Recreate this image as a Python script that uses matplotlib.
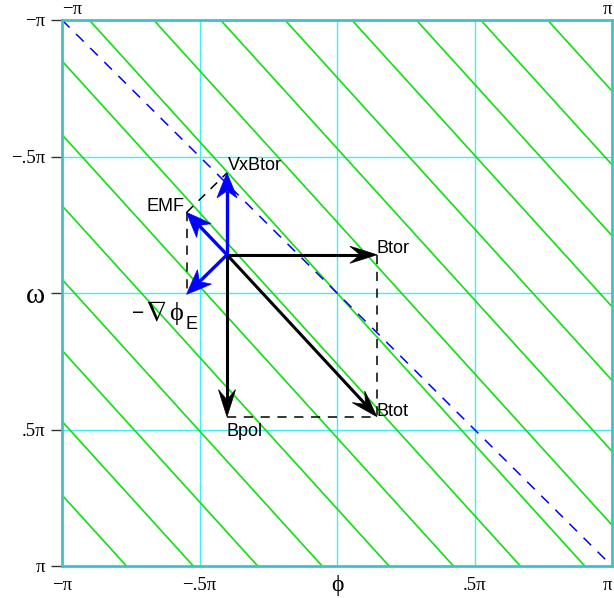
import numpy as np
import matplotlib
matplotlib.use("Agg")
import matplotlib.pyplot as plt
from matplotlib.patches import Polygon

PI = np.pi

# axis ticks (units of pi) and their labels
tick_vals = [-1.0, -0.5, 0.0, 0.5, 1.0]
x_tick_labels = ["−π", "−.5π", "ϕ", ".5π", "π"]
y_tick_labels = ["−π", "−.5π", "ω", ".5π", "π"]

# helical field lines: omega = pitch * phi + offset (units of pi)
field_pitch = 1.11
field_offsets = [-2.11, -1.85, -1.58, -1.32, -1.06, -0.79, -0.53, -0.26, 0.0,
                 0.26, 0.53, 0.79, 1.06, 1.32, 1.58, 1.85, 2.11]

# reference diagonal omega = phi
diag_phi = [-1.0, 1.0]
diag_omega = [-1.0, 1.0]

# vector diagram (phi, omega) in units of pi
origin = (-0.40, -0.14)
B_tor = (0.545, 0.0)
B_pol = (0.0, 0.593)
VxB_tor = (0.0, -0.30)
neg_grad_phiE = (-0.147, 0.145)

B_tot = (B_tor[0] + B_pol[0], B_tor[1] + B_pol[1])
EMF = (VxB_tor[0] + neg_grad_phiE[0], VxB_tor[1] + neg_grad_phiE[1])

FRAME = "#3cc4c4"
GRID = "#40f0f0"
GREEN = "#10e010"
BLUE = "#0000ff"

SERIF = ["Liberation Serif", "DejaVu Serif"]
SANS = ["Liberation Sans", "DejaVu Sans"]

fig = plt.figure(figsize=(6.14, 5.98), dpi=100)
ax = fig.add_axes([62 / 614, 1 - 566 / 598, 550 / 614, 546 / 598])
ax.set_xlim(-PI, PI)
ax.set_ylim(PI, -PI)

# grid
for v in tick_vals[1:-1]:
    ax.axvline(v * PI, color=GRID, lw=1.0, zorder=0)
    ax.axhline(v * PI, color=GRID, lw=1.0, zorder=0)

# field lines
phi_line = np.array([-PI, PI])
for c in field_offsets:
    ax.plot(phi_line, field_pitch * phi_line + c * PI, color=GREEN, lw=1.2, zorder=1)

ax.plot(np.array(diag_phi) * PI, np.array(diag_omega) * PI, color=BLUE, lw=1.1,
        dashes=(7, 6), zorder=2)

for s in ax.spines.values():
    s.set_color(FRAME)
    s.set_linewidth(2.0)

# left axis: ticks with labels
ax.set_yticks(np.array(tick_vals) * PI)
ax.set_yticklabels(y_tick_labels, family=SERIF, fontsize=13.5)
ax.get_yticklabels()[2].set_fontsize(21)
ax.tick_params(axis="y", direction="out", length=8, width=1.0, color="#333333", pad=4)

# bottom axis: labels only
ax.set_xticks([])
for v, lab in zip(tick_vals, x_tick_labels):
    big = lab == "ϕ"
    ha = "right" if v == tick_vals[-1] else "center"
    ax.annotate(lab, (v * PI, 0), xycoords=("data", "axes fraction"),
                xytext=(0, -20), textcoords="offset pixels",
                ha=ha, va="center", family=SERIF, fontsize=17 if big else 13.5,
                annotation_clip=False)

# top axis: end labels
ax.annotate(x_tick_labels[0], (tick_vals[0] * PI, 1), xycoords=("data", "axes fraction"),
            xytext=(0, 10), textcoords="offset pixels", ha="left", va="center",
            family=SERIF, fontsize=13.5, annotation_clip=False)
ax.annotate(x_tick_labels[-1], (tick_vals[-1] * PI, 1), xycoords=("data", "axes fraction"),
            xytext=(0, 10), textcoords="offset pixels", ha="right", va="center",
            family=SERIF, fontsize=13.5, annotation_clip=False)

fig.canvas.draw()


def arrow(start, vec, color, lw, L, W, notch):
    x0, y0 = start[0] * PI, start[1] * PI
    x1, y1 = (start[0] + vec[0]) * PI, (start[1] + vec[1]) * PI
    p0 = ax.transData.transform((x0, y0))
    p1 = ax.transData.transform((x1, y1))
    d = p1 - p0
    u = d / np.hypot(*d)
    n = np.array([-u[1], u[0]])
    head = [p1,
            p1 - 0.55 * L * u + 0.28 * W * n,
            p1 - L * u + 0.5 * W * n,
            p1 - notch * L * u,
            p1 - L * u - 0.5 * W * n,
            p1 - 0.55 * L * u - 0.28 * W * n]
    head_data = ax.transData.inverted().transform(np.array(head))
    shaft_end = ax.transData.inverted().transform(p1 - notch * L * u)
    ax.plot([x0, shaft_end[0]], [y0, shaft_end[1]], color=color, lw=lw,
            solid_capstyle="butt", zorder=5)
    ax.add_patch(Polygon(head_data, closed=True, facecolor=color, edgecolor=color,
                         lw=0.5, zorder=6))
    return x1, y1


def pt(p):
    return p[0] * PI, p[1] * PI


def add(a, b):
    return (a[0] + b[0], a[1] + b[1])


# construction lines
dash_kw = dict(color="black", lw=1.1, dashes=(6, 5), zorder=4)
for a, b in [(add(origin, B_tor), add(origin, B_tot)),
             (add(origin, B_pol), add(origin, B_tot)),
             (add(origin, EMF), add(origin, VxB_tor)),
             (add(origin, EMF), add(origin, neg_grad_phiE))]:
    ax.plot([pt(a)[0], pt(b)[0]], [pt(a)[1], pt(b)[1]], **dash_kw)

tip_tor = arrow(origin, B_tor, "black", 2.2, 27, 17, 0.62)
tip_pol = arrow(origin, B_pol, "black", 2.2, 27, 17, 0.62)
tip_tot = arrow(origin, B_tot, "black", 2.2, 27, 17, 0.62)
tip_vxb = arrow(origin, VxB_tor, BLUE, 2.4, 25, 20, 0.72)
tip_emf = arrow(origin, EMF, BLUE, 2.4, 25, 20, 0.72)
tip_grad = arrow(origin, neg_grad_phiE, BLUE, 2.4, 25, 20, 0.72)

lab_kw = dict(family=SANS, fontsize=13, textcoords="offset pixels", zorder=7)
ax.annotate("VxBtor", tip_vxb, xytext=(1, 7), ha="left", va="center", **lab_kw)
ax.annotate("EMF", tip_emf, xytext=(-2, 6), ha="right", va="center", **lab_kw)
ax.annotate("Btor", tip_tor, xytext=(0, 6), ha="left", va="center", **lab_kw)
ax.annotate("Btot", tip_tot, xytext=(0, 5), ha="left", va="center", **lab_kw)
ax.annotate("Bpol", tip_pol, xytext=(0, -15), ha="left", va="center", **lab_kw)
ax.annotate("−", tip_grad, xytext=(-42, -19), ha="right", va="center",
            family=SANS, fontsize=15, textcoords="offset pixels", zorder=7)
ax.annotate(r"$\nabla$", tip_grad, xytext=(-20, -18), ha="right", va="center",
            math_fontfamily="stix", fontsize=21, textcoords="offset pixels", zorder=7)
ax.annotate("ϕ", tip_grad, xytext=(-4, -19), ha="right", va="center",
            family=SERIF, fontsize=19, textcoords="offset pixels", zorder=7)
ax.annotate("E", tip_grad, xytext=(-1, -30), ha="left", va="center",
            family=SANS, fontsize=13, textcoords="offset pixels", zorder=7)

fig.savefig("out.png", dpi=100)
